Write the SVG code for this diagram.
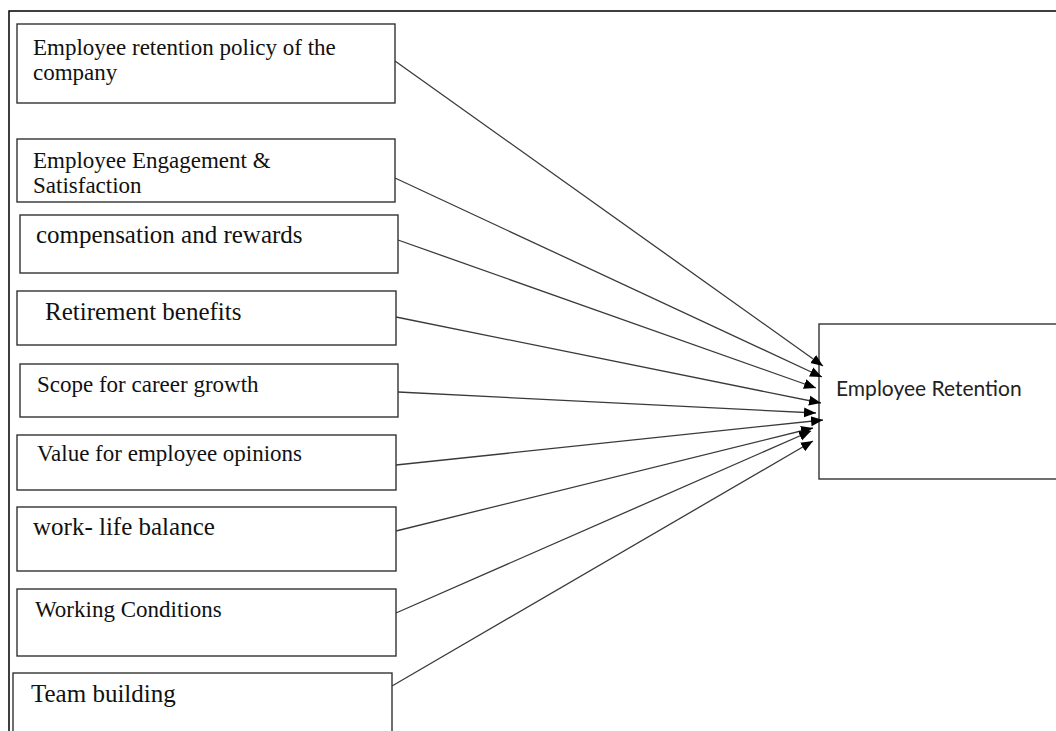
<svg xmlns="http://www.w3.org/2000/svg" width="1056" height="731" viewBox="0 0 1056 731">
<style>
.box{fill:#fff;stroke:#333;stroke-width:1.4}
.t{font-family:"Liberation Serif","Times New Roman",serif;font-size:23px;fill:#111}
.t2{font-family:"Liberation Serif","Times New Roman",serif;font-size:25px;fill:#111}
.s{font-family:Lato,"Open Sans",sans-serif;font-size:21px;fill:#222}
.c{stroke:#3a3a3a;stroke-width:1.3;fill:none;marker-end:url(#ah)}
</style>
<defs>
<marker id="ah" markerUnits="userSpaceOnUse" markerWidth="13" markerHeight="12" refX="12" refY="6" orient="auto">
<path d="M0,1 L12,6 L0,11 z" fill="#000"/>
</marker>
</defs>
<rect x="0" y="0" width="1056" height="731" fill="#fff"/>
<g id="frame" fill="none" stroke="#000" stroke-width="1.5">
<path d="M9,731 V11 H1056"/>
</g>
<g id="n1"><rect class="box" x="17" y="24" width="378" height="79"/><text class="t" x="33" y="55">Employee retention policy of the</text><text class="t" x="33" y="80">company</text></g>
<g id="n2"><rect class="box" x="17" y="139" width="378" height="63"/><text class="t" x="33" y="168">Employee Engagement &amp;</text><text class="t" x="33" y="193">Satisfaction</text></g>
<g id="n3"><rect class="box" x="20" y="215" width="378" height="58"/><text class="t2" x="36" y="243">compensation and rewards</text></g>
<g id="n4"><rect class="box" x="17" y="291" width="379" height="54"/><text class="t2" x="45" y="320">Retirement benefits</text></g>
<g id="n5"><rect class="box" x="20" y="364" width="378" height="53"/><text class="t" x="37" y="392">Scope for career growth</text></g>
<g id="n6"><rect class="box" x="17" y="435" width="379" height="55"/><text class="t" x="37" y="461">Value for employee opinions</text></g>
<g id="n7"><rect class="box" x="17" y="507" width="379" height="64"/><text class="t2" x="33" y="535">work- life balance</text></g>
<g id="n8"><rect class="box" x="17" y="589" width="379" height="67"/><text class="t" x="35" y="617">Working Conditions</text></g>
<g id="n9"><rect class="box" x="13" y="673" width="379" height="80"/><text class="t2" x="31" y="702">Team building</text></g>
<g id="target"><rect class="box" x="819" y="324" width="300" height="155"/><text class="s" x="836" y="396">Employee Retention</text></g>
<g id="connectors">
<line class="c" x1="395" y1="61" x2="823" y2="366"/>
<line class="c" x1="395" y1="178" x2="822" y2="377"/>
<line class="c" x1="398" y1="240" x2="816" y2="388"/>
<line class="c" x1="396" y1="317" x2="821" y2="403"/>
<line class="c" x1="398" y1="392" x2="816" y2="413"/>
<line class="c" x1="396" y1="465" x2="823" y2="420"/>
<line class="c" x1="396" y1="531" x2="813" y2="428"/>
<line class="c" x1="396" y1="613" x2="811" y2="431"/>
<line class="c" x1="392" y1="686" x2="813" y2="441"/>
</g>
</svg>
